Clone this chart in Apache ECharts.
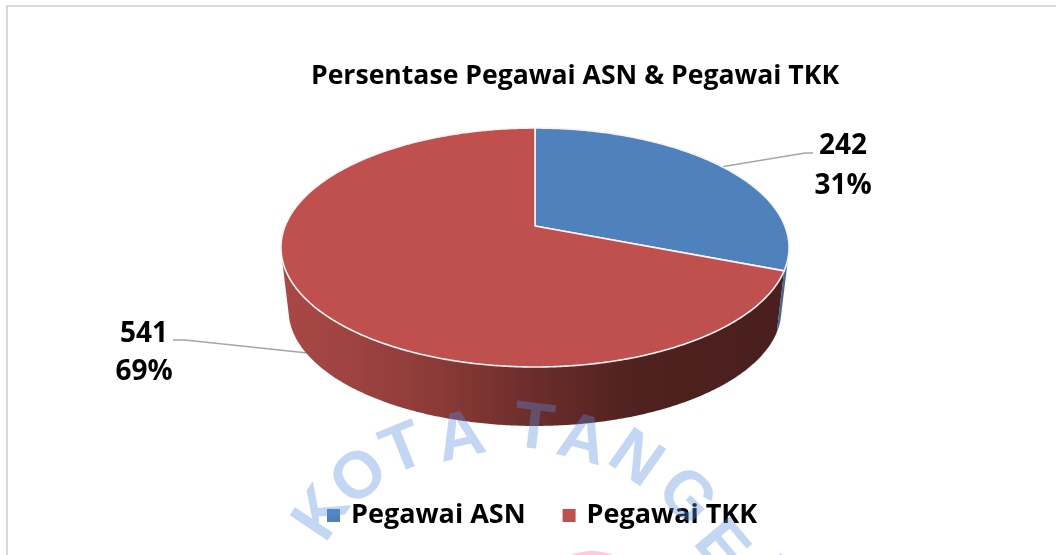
<!DOCTYPE html>
<html>
<head>
<meta charset="utf-8">
<style>html,body{margin:0;padding:0;background:#fff}#c{width:1056px;height:555px}</style>
<script src="https://cdn.jsdelivr.net/npm/echarts@6/dist/echarts.min.js"></script>
</head>
<body>
<div id="c"></div>
<script>
const titleText = 'Persentase Pegawai ASN & Pegawai TKK';
const categories = ['Pegawai ASN', 'Pegawai TKK'];
const values = [242, 541];
const percentLabels = ['31%', '69%'];
const watermarkLetters = ['K', 'O', 'T', 'A', 'T', 'A', 'N', 'G', 'E', 'R'];

const FONT = '"Open Sans", Lato, sans-serif';
const total = values.reduce((a, b) => a + b, 0);

// Perspective disc: a flat circle seen at an angle.
const AX = 535, AY = 226, Q = 249.9, B = 115.6, K = -0.18;
const RIM_SCALE = 0.97, RIM_DY = 63.2;
function project(deg, scale, dy) {
  const t = deg * Math.PI / 180, X = Math.sin(t), Y = -Math.cos(t), d = 1 + K * Y;
  return [AX + scale * Q * X / d, AY + scale * B * Y / d + dy];
}
function arc(from, to, scale, dy) {
  const pts = [], n = Math.max(2, Math.ceil(Math.abs(to - from) * 2));
  for (let i = 0; i <= n; i++) pts.push(project(from + (to - from) * i / n, scale, dy));
  return pts;
}
const SIDE_FROM = 105, SIDE_TO = 255;
const sideFills = [
  [[0, '#2f4f78'], [1, '#3f6a9e']],
  [[0, '#a94845'], [0.12, '#a04441'], [0.3, '#8c3b38'], [0.5, '#6b2d2b'], [0.7, '#4f211f'], [1, '#4a1f1d']]
];
const topFills = ['#4f81bd', '#c0504d'];
// label layout: elbow, line end, label centre and depth of the leader's anchor
const labelLayout = [
  { elbow: [805, 153], end: [813, 153], cx: 843, y1: 146, y2: 186, scale: 1, dy: 0 },
  { elbow: [185, 340], end: [173, 340], cx: 144, y1: 334, y2: 372, scale: RIM_SCALE, dy: 57 }
];

function sliceItem(i) {
  return function (params, api) {
    const before = values.slice(0, i).reduce((a, b) => a + b, 0);
    const from = before / total * 360, to = from + api.value(0) / total * 360, mid = (from + to) / 2;
    const L = labelLayout[i], children = [];
    const a = project(mid, L.scale, L.dy);
    children.push({ type: 'polyline', shape: { points: [a, L.elbow, L.end] },
      style: { stroke: '#a6a6a6', lineWidth: 1.6, fill: null } });
    const sFrom = Math.max(from, SIDE_FROM), sTo = Math.min(to, SIDE_TO);
    if (sTo > sFrom) {
      const pts = arc(sFrom, sTo, 1, 0).concat(arc(sTo, sFrom, RIM_SCALE, RIM_DY));
      children.push({ type: 'polygon', shape: { points: pts },
        style: { fill: { type: 'linear', x: 281, y: 0, x2: 789, y2: 0, global: true,
          colorStops: sideFills[i].map(s => ({ offset: s[0], color: s[1] })) } } });
    }
    children.push({ type: 'polygon', shape: { points: [[AX, AY]].concat(arc(from, to, 1, 0)) },
      style: { fill: topFills[i], stroke: '#f4f4f4', lineWidth: 1.6, lineJoin: 'round' } });
    const txt = (s, y) => ({ type: 'text', style: { text: s, x: L.cx, y: y, align: 'center', verticalAlign: 'middle',
      fill: '#000', font: 'bold 28px ' + FONT } });
    children.push(txt(String(api.value(0)), L.y1), txt(percentLabels[i], L.y2));
    return { type: 'group', children: children };
  };
}

const letterPlaces = [[320,512,-56],[358,475,-40],[402,447,-22],[460,435,-13],[534,426,7],[583,438,15],[637,457,35],[688,495,45],[723,545,50],[772,582,58]];
const chart = echarts.init(document.getElementById('c'), null, { renderer: 'canvas' });
chart.setOption({
  animation: false,
  backgroundColor: '#fff',
  title: { text: titleText, left: 570, top: 58, textAlign: 'center',
    textStyle: { color: '#000', fontFamily: FONT, fontWeight: 'bold', fontSize: 26.6 } },
  legend: { data: categories, left: 322, top: 497, icon: 'rect', itemWidth: 13, itemHeight: 13, itemGap: 37, selectedMode: false,
    textStyle: { color: '#000', fontFamily: FONT, fontWeight: 'bold', fontSize: 27, padding: [0, 0, 0, 6] } },
  series: categories.map((name, i) => ({
    type: 'custom', name: name, coordinateSystem: 'none', silent: true, z: 2,
    itemStyle: { color: topFills[i] },
    data: [[values[i]]],
    renderItem: sliceItem(i)
  })),
  graphic: [
    { type: 'line', z: 1, shape: { x1: 7, y1: 6, x2: 7, y2: 555 }, style: { stroke: '#d9d9d9', lineWidth: 2 } },
    { type: 'line', z: 1, shape: { x1: 6, y1: 6, x2: 1056, y2: 6 }, style: { stroke: '#d9d9d9', lineWidth: 2 } },
    { type: 'circle', z: 100, shape: { cx: 592, cy: 606, r: 55 }, style: { fill: 'rgba(240,130,160,0.4)' } }
  ].concat(watermarkLetters.map((s, i) => ({
    type: 'text', z: 100, x: letterPlaces[i][0], y: letterPlaces[i][1], rotation: -letterPlaces[i][2] * Math.PI / 180,
    style: { text: s, x: 0, y: 4, align: 'center', verticalAlign: 'middle', fill: 'rgba(90,140,225,0.36)',
      font: 'bold 66px "Liberation Sans", sans-serif' }
  })))
});
</script>
</body>
</html>
